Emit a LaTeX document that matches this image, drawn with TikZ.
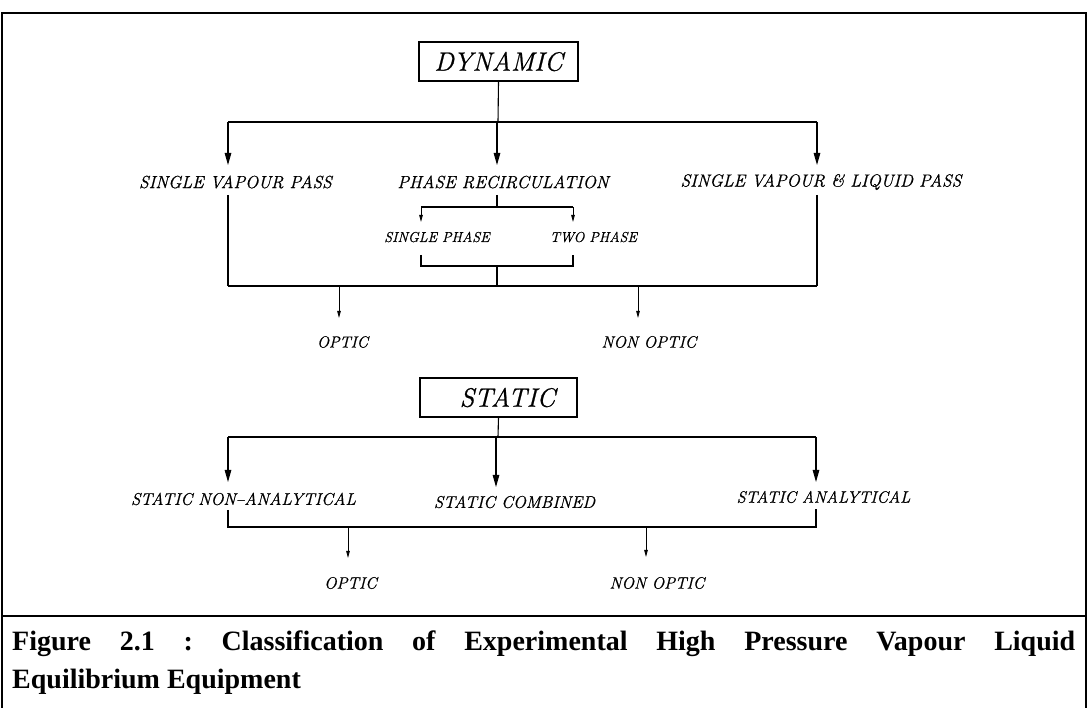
\documentclass[tikz,border=0pt]{standalone}
\usepackage{fontspec}
\newfontfamily\capfont{Liberation Serif}
\newfontfamily\labfont[FakeBold=0.8]{Latin Modern Roman}
\usetikzlibrary{arrows.meta}
\begin{document}
\begin{tikzpicture}[x=1pt,y=-1pt,
  frameline/.style={line width=1.8pt},
  conn/.style={line width=1.1pt},
  bus/.style={line width=1.4pt},
  bigarrow/.style={conn,-{Triangle[length=12pt,width=6.5pt]}},
  smallarrow/.style={line width=0.9pt,-{Triangle[length=7pt,width=3.5pt]}},
  headbox/.style={draw,line width=1.1pt,minimum width=159pt,minimum height=39pt,inner sep=0pt,font=\labfont\fontsize{26.5}{28}\selectfont\itshape},
  lab/.style={inner sep=0pt,font=\labfont\fontsize{17.5}{19}\selectfont\itshape},
  slab/.style={inner sep=0pt,font=\labfont\fontsize{17}{19}\selectfont\itshape},
  olab/.style={inner sep=0pt,font=\labfont\fontsize{16.5}{18}\selectfont\itshape},
  sublab/.style={inner sep=0pt,font=\labfont\fontsize{14.3}{16}\selectfont\itshape},
]
\useasboundingbox (0,0) rectangle (1088,708);
% frame
\draw[frameline] (2,710) -- (2,13) -- (1086,13) -- (1086,710);
\draw[frameline] (2,616) -- (1086,616);

% ---------------- DYNAMIC ----------------
\node[headbox] (dyn) at (498.5,61.5) {DYNAMIC};
\coordinate (b1m) at (498,122);
\coordinate (b1l) at (228,122);
\coordinate (b1r) at (817,122);
\draw[conn] (dyn.south) -- (b1m);
\draw[bus] (b1l) -- (b1r);

\node[lab] (svp) at (235.5,182) {SINGLE VAPOUR PASS};
\node[lab] (pr) at (503,182) {PHASE RECIRCULATION};
\node[lab] (svlp) at (821,182) {SINGLE VAPOUR \& LIQUID PASS};

\coordinate (a1) at (228,165);
\coordinate (a2) at (497,165);
\coordinate (a3) at (817,165);
\draw[bigarrow] (b1l) -- (a1);
\draw[bigarrow] (497,122) -- (a2);
\draw[bigarrow] (b1r) -- (a3);

% phase recirculation sub-branch
\coordinate (prb) at (497,195);
\coordinate (sbm) at (497,207);
\coordinate (sbl) at (421,207);
\coordinate (sbr) at (573,207);
\draw[conn] (prb) -- (sbm);
\draw[conn] (sbl) -- (sbr);
\coordinate (spa) at (421,222);
\coordinate (tpa) at (573,222);
\draw[smallarrow] (sbl) -- (spa);
\draw[smallarrow] (sbr) -- (tpa);
\node[sublab] (sp) at (437,237) {SINGLE PHASE};
\node[sublab] (tp) at (593.5,237) {TWO PHASE};

% bracket under sub-branch
\coordinate (brl) at (421,255);
\coordinate (brr) at (573,255);
\coordinate (brm) at (497,266);
\draw[conn] (brl) -- (421,266) -- (573,266) -- (brr);
\coordinate (b2m) at (497,286);
\draw[conn] (brm) -- (b2m);

% lower bus
\coordinate (svpb) at (228,195);
\coordinate (svlpb) at (817,195);
\coordinate (b2l) at (228,286);
\coordinate (b2r) at (817,286);
\draw[conn] (svpb) -- (b2l);
\draw[conn] (svlpb) -- (b2r);
\draw[bus] (b2l) -- (b2r);

\node[olab,font=\labfont\fontsize{16}{18}\selectfont\itshape] (opt1) at (342.5,342) {OPTIC};
\node[olab] (nopt1) at (649,342) {NON OPTIC};
\coordinate (o1a) at (339,318);
\coordinate (n1a) at (638,318);
\draw[smallarrow] (339,286) -- (o1a);
\draw[smallarrow] (638,286) -- (n1a);

% ---------------- STATIC ----------------
\node[headbox,minimum width=157pt] (sta) at (498.5,397.5) {\hspace*{18pt}STATIC};
\coordinate (b3m) at (498,437);
\coordinate (b3l) at (228,437);
\coordinate (b3r) at (816,437);
\draw[conn] (sta.south) -- (b3m);
\draw[bus] (b3l) -- (b3r);

\node[slab] (sna) at (243.5,499) {STATIC NON\textendash ANALYTICAL};
\node[slab] (sc) at (514.5,502) {STATIC COMBINED};
\node[slab,font=\labfont\fontsize{16.5}{18}\selectfont\itshape] (san) at (823.5,497) {STATIC ANALYTICAL};

\coordinate (c1) at (228,482);
\coordinate (c2) at (496,487);
\coordinate (c3) at (816,482);
\draw[bigarrow] (b3l) -- (c1);
\draw[bigarrow] (496,437) -- (c2);
\draw[bigarrow] (b3r) -- (c3);

\coordinate (snab) at (228,510);
\coordinate (sanb) at (816,509);
\coordinate (b4l) at (228,527);
\coordinate (b4r) at (816,527);
\draw[conn] (snab) -- (b4l) -- (b4r) -- (sanb);

\node[olab] (opt2) at (350.5,583) {OPTIC};
\node[olab] (nopt2) at (657,583) {NON OPTIC};
\coordinate (o2a) at (348,558);
\coordinate (n2a) at (646,557);
\draw[smallarrow] (348,527) -- (o2a);
\draw[smallarrow] (646,527) -- (n2a);

% ---------------- caption ----------------
\node[anchor=north west,inner sep=0pt,text width=1063pt,align=justify,
      font=\capfont\bfseries\fontsize{28}{38}\selectfont\frenchspacing] (cap) at (12,631)
  {Figure 2.1 : Classification of Experimental High Pressure Vapour Liquid\linebreak
   Equilibrium Equipment};
\end{tikzpicture}
\end{document}
